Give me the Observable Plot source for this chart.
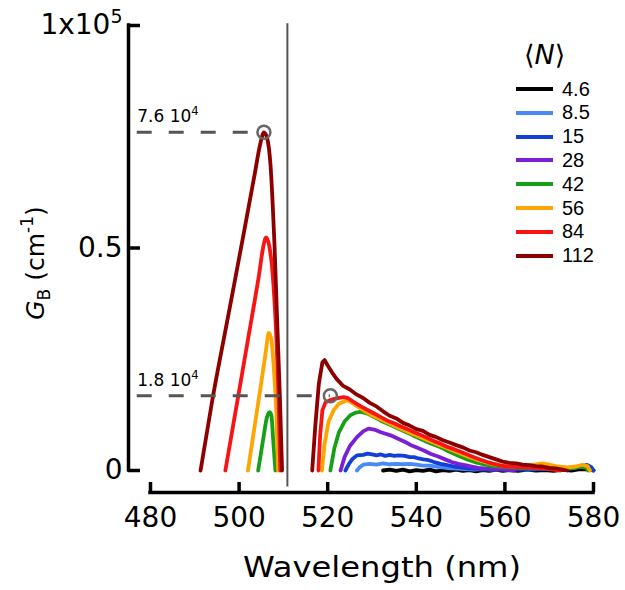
<!DOCTYPE html>
<html>
<head>
<meta charset="utf-8">
<script src="https://cdn.jsdelivr.net/npm/d3@7"></script>
<script src="https://cdn.jsdelivr.net/npm/@observablehq/plot@0.6"></script>
<style>
  body { margin: 0; background: #fff; }
  #wrap { position: relative; width: 625px; height: 590px; overflow: hidden; }
  #legend { position: absolute; left: 0; top: 0; font-family: "Liberation Sans", Arial, sans-serif; color: #000; }
  #legend .title { position: absolute; left: 524px; top: 40px; font-size: 27px; line-height: 30px; white-space: nowrap; font-family: "DejaVu Sans", "Liberation Sans", sans-serif; }
  #legend .row { position: absolute; left: 516px; height: 24px; display: flex; align-items: center; white-space: nowrap; }
  #legend .sw { width: 37px; height: 4px; margin-right: 9px; }
  #legend .lab { font-size: 20px; }
</style>
</head>
<body>
<div id="wrap"><div id="legend"></div></div>
<script>
// ---- series (legend) ----
const seriesN = ["4.6", "8.5", "15", "28", "42", "56", "84", "112"];
const seriesColors = ["#000000", "#4a8af6", "#1240d6", "#7a1fd4", "#17a017", "#ffa500", "#f81414", "#8e0000"];

// ---- axes ----
const xTicks = [480, 500, 520, 540, 560, 580];
const yTicks = [0, 50000, 100000];
const yTickLabels = ["0", "0.5", "1x10^{5}"];
const xTitle = "Wavelength (nm)";
const yTitle = "*G*_{B} (cm^{-1})";

// ---- left (short-wavelength) gain band: [wavelength nm, G_B cm^-1] ----
const left42 = [[504.3,0],[505.4,6800],[506.3,12000],[506.9,13100],[507.3,12300],[507.7,6800],[508.2,0]];
const left56 = [[502,0],[503.5,9900],[505,19700],[506,26500],[506.7,30900],[507.3,29300],[507.9,22000],[508.4,13000],[508.8,0]];
const left84 = [[496.9,0],[499.8,16700],[502.1,30000],[504.5,44000],[505.5,50500],[506.1,52400],[506.8,50500],[507.5,45000],[508.4,30000],[508.95,15000],[509.3,0]];
const left112 = [[491.3,0],[493.9,15500],[497.4,34000],[500.9,52500],[503.5,66500],[504.8,73500],[505.6,76000],[506.3,74800],[507.1,68500],[508,50400],[509.2,16700],[509.7,0]];

// ---- right (long-wavelength) gain band ----
const right4p6 = [[532.5,0],[534,200],[535.5,-100],[537,200],[538.5,-200],[540,100],[541.5,-100],[543,200],[544.5,-200],[546,100],[547.5,-100],[549,200],[550.5,-100],[552,100],[553.5,-200],[555,100],[556.5,-100],[558,200],[559.5,-100],[561,100],[563,-100],[565,200],[567,0],[569,100],[571,-100],[573,200],[575,0],[577,300],[579,200],[580,0]];
const right8p5 = [[526.6,0],[527.2,700],[528,1300],[529.5,1500],[531,1300],[532.5,1600],[534,1400],[535.5,1500],[537,1400],[538.5,1500],[540,1300],[541.5,1100],[543,1100],[544.8,800],[546,700],[547.5,500],[549,400],[551,300],[553,200],[555,300],[557,200],[559,300],[561,200],[563,300],[565,200],[567,300],[569,400],[571,300],[573,400],[575,500],[577,800],[578.5,1300],[579.5,800],[580,0]];
const right15 = [[524,0],[524.8,1500],[525.6,2600],[526.6,3400],[528,3500],[529,3800],[530,3600],[531,3400],[532,3600],[533,3300],[534,3500],[535,3300],[536,3400],[537.4,3300],[538.5,3000],[539.5,3000],[540.5,2700],[541.6,2500],[542.5,2400],[544,1900],[545.5,1500],[547,1200],[548.5,900],[550,700],[551.5,500],[553,400],[555,300],[557,200],[559,300],[561,200],[563,300],[565,300],[567,400],[569,300],[571,400],[573,500],[575,600],[577,900],[578.5,1200],[579.5,700],[580,0]];
const right28 = [[522.9,0],[523.8,3000],[525,5500],[526.6,7500],[528,8800],[529.2,9400],[530.5,9200],[532,8600],[534.2,7900],[536,7100],[537.5,6400],[539,5600],[540.5,5000],[541.7,4500],[543.3,3700],[544.8,3200],[546.5,2500],[548,1900],[549.5,1500],[551,1200],[552.5,900],[554,600],[556,400],[558,300],[560,200],[562,0]];
const right42 = [[520.6,0],[521.5,5000],[522.5,8500],[523.8,11000],[525.1,12400],[526.3,13000],[527.4,13200],[529,12800],[530.5,12000],[532,11200],[534.2,10200],[536,9400],[538,8500],[540,7500],[542,6600],[544,5800],[545.5,5200],[547.5,4200],[549.5,3300],[551.5,2500],[553.5,1800],[555.5,1300],[557.5,1000],[559.5,800],[561.5,700],[563.5,600],[565.5,600],[567.5,700],[569.5,600],[571.5,500],[573.5,400],[575.5,600],[577,900],[578.3,600],[578.8,0]];
const right56 = [[518.7,0],[519.3,6000],[520.2,11000],[521.3,13500],[522.5,15000],[524.4,15800],[525.5,15200],[527,14200],[530,12400],[533,11000],[536,9600],[539,8300],[542,7000],[545,5800],[548,4600],[551,3400],[554,2300],[557,1500],[560,1000],[563,900],[565,1100],[567,1400],[568.5,1600],[570,1300],[572,900],[574,700],[576,900],[577.5,1300],[578.6,1000],[579.2,0]];
const right84 = [[517.9,0],[518.3,8000],[518.8,13500],[519.5,15300],[520.5,15800],[522,16200],[523.5,16500],[524.5,16300],[526,15300],[527.5,14400],[529,13600],[530.5,12800],[532,12000],[533.5,11200],[535,10600],[536.5,9900],[538,9300],[539.5,8600],[541,8000],[542.5,7300],[544,6600],[545.5,6000],[547,5300],[548.5,4800],[550,4200],[551.5,3600],[553,3000],[554.5,2400],[556,1900],[557.5,1500],[559,1100],[560.5,900],[562,800],[563.5,700],[565,700],[566.5,600],[568,500],[569.5,400],[571,200],[572.5,0]];
const right112 = [[516.5,0],[517.2,10000],[518,19500],[518.8,24300],[519.3,24800],[520,23600],[521,22000],[522,20600],[523.5,19000],[525,18200],[526.5,17100],[528,16300],[529.5,15200],[531,14400],[532.5,13300],[534,12300],[535.5,11700],[537,10700],[538.5,10100],[540,9300],[541.5,8900],[543,8000],[544.5,7500],[546,6800],[547.5,6300],[549,5700],[550.5,5200],[552,4500],[553.5,4100],[555,3500],[556.5,3000],[558,2500],[559.5,2000],[561,1700],[562.5,1600],[564,1300],[565.5,1200],[567,1000],[568.5,900],[570,600],[571.5,500],[573,200],[574,0]];

// ---- annotations ----
const peakWl = [505.6, 520.6];
const peakG = [76000, 16800];
const peakLabels = ["7.6 10^{4}", "1.8 10^{4}"];
const dashStartWl = 477;
const dividerWl = 510.9;
const dividerG = [-3700, 100400];

// ---- assemble tables ----
const leftSets = {"42": left42, "56": left56, "84": left84, "112": left112};
const rightSets = {"4.6": right4p6, "8.5": right8p5, "15": right15, "28": right28, "42": right42, "56": right56, "84": right84, "112": right112};
function rowsFrom(sets, tag) {
  const rows = [];
  for (const n of seriesN) {
    if (!sets[n]) continue;
    for (const [wl, g] of sets[n]) rows.push({N: n, key: n + tag, wl, g});
  }
  return rows;
}
const leftRows = rowsFrom(leftSets, "L");
const rightRows = rowsFrom(rightSets, "R");
const peaks = peakWl.map((wl, i) => ({wl, g: peakG[i], label: peakLabels[i]}));

const axisFont = "DejaVu Sans, Liberation Sans, sans-serif";

const chart = Plot.plot({
  width: 625,
  height: 590,
  marginLeft: 150,
  marginRight: 32,
  marginTop: 25,
  marginBottom: 120,
  x: {domain: [480, 580], label: null},
  y: {domain: [0, 100000], label: null},
  color: {domain: seriesN, range: seriesColors},
  style: {fontFamily: axisFont, color: "#000", background: "#fff", overflow: "visible"},
  marks: [
    Plot.ruleX([xTicks[0]], {dx: -22, stroke: "#000", strokeWidth: 3.5, strokeLinecap: "square"}),
    Plot.ruleY([yTicks[0]], {dy: 22, stroke: "#000", strokeWidth: 3.5, strokeLinecap: "square"}),
    Plot.axisX(xTicks, {anchor: "bottom", dy: 22, tickSize: -10, tickPadding: 25, fontSize: 28, strokeWidth: 3.5, tickFormat: d => String(d), label: null}),
    Plot.axisY(yTicks, {anchor: "left", dx: -22, tickSize: -12, tickPadding: 18, fontSize: 28, strokeWidth: 3.5, tickFormat: d => yTickLabels[yTicks.indexOf(d)], label: null}),
    Plot.ruleX([dividerWl], {y1: dividerG[0], y2: dividerG[1], stroke: "#555", strokeWidth: 2}),
    Plot.line(leftRows, {x: "wl", y: "g", z: "key", stroke: "N", strokeWidth: 3.8, curve: "monotone-x", strokeLinejoin: "round"}),
    Plot.line(rightRows, {x: "wl", y: "g", z: "key", stroke: "N", strokeWidth: 3.8, curve: "linear", strokeLinejoin: "round"}),
    Plot.ruleY(peaks, {y: "g", x1: dashStartWl, x2: "wl", stroke: "#555", strokeWidth: 3, strokeDasharray: "15,17"}),
    Plot.dot(peaks, {x: "wl", y: "g", r: 6.5, stroke: "#666", strokeWidth: 2.5, fill: "none"}),
    Plot.text(peaks, {x: dashStartWl, y: "g", text: "label", textAnchor: "start", lineAnchor: "bottom", dy: -10, fontSize: 17}),
    Plot.text([yTitle], {frameAnchor: "left", textAnchor: "middle", dx: -115, dy: 15, rotate: -90, fontSize: 25}),
    Plot.text([xTitle], {frameAnchor: "bottom", textAnchor: "middle", dx: 10, dy: 98, lineAnchor: "middle", fontSize: 28})
  ]
});

document.getElementById("wrap").prepend(chart);

// rich text: _{sub}, ^{sup}, *italic*
function richText(el) {
  const s = el.textContent;
  if (!/[\^_]\{|\*/.test(s)) return;
  const fs = parseFloat(getComputedStyle(el).fontSize) || 16;
  el.textContent = "";
  const re = /([\^_])\{([^}]*)\}|\*([^*]+)\*/g;
  let last = 0, m, shift = 0;
  const add = (str, kind) => {
    const t = document.createElementNS("http://www.w3.org/2000/svg", "tspan");
    t.textContent = str;
    const target = kind === "^" ? -0.42 * fs : kind === "_" ? 0.25 * fs : 0;
    if (target - shift !== 0) t.setAttribute("dy", target - shift);
    shift = target;
    if (kind === "^" || kind === "_") t.setAttribute("font-size", 0.68 * fs);
    if (kind === "i") t.setAttribute("font-style", "italic");
    el.appendChild(t);
  };
  while ((m = re.exec(s))) {
    if (m.index > last) add(s.slice(last, m.index), null);
    if (m[3] !== undefined) add(m[3], "i"); else add(m[2], m[1]);
    last = re.lastIndex;
  }
  if (last < s.length) add(s.slice(last), null);
}
d3.select(chart).selectAll("text").each(function () { richText(this); });
// stretch the x title to the reference's width
d3.select(chart).selectAll("text").filter(function () { return this.textContent === xTitle; })
  .attr("textLength", 278).attr("lengthAdjust", "spacingAndGlyphs");

// legend
const legend = d3.select("#legend");
legend.append("div").attr("class", "title").html("\u27E8<i>N</i>\u27E9");
seriesN.forEach((n, i) => {
  const row = legend.append("div").attr("class", "row").style("top", (77 + i * 23.8) + "px");
  row.append("div").attr("class", "sw").style("background", seriesColors[i]);
  row.append("div").attr("class", "lab").text(n);
});
</script>
</body>
</html>
